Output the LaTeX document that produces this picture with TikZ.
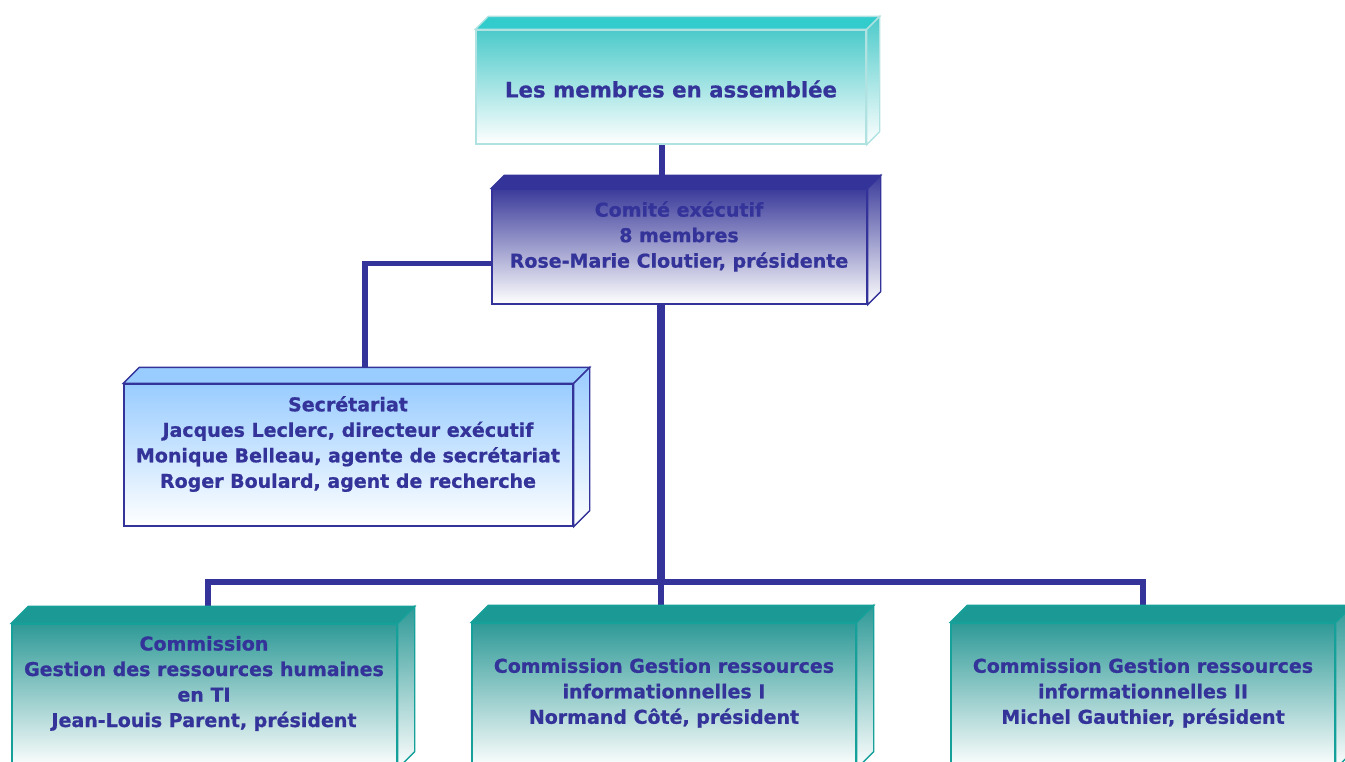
\documentclass[tikz,border=0pt]{standalone}
\usepackage{fontspec}
\setmainfont{DejaVu Sans}[BoldFeatures={FakeBold=0.8}]
\definecolor{tblue}{HTML}{333399}
\definecolor{cyanTop}{HTML}{33CCCC}
\definecolor{cyanFront}{HTML}{4CCACA}
\definecolor{cyanBorder}{HTML}{B0E2E2}
\definecolor{comFront}{HTML}{3B3B9B}
\definecolor{secTop}{HTML}{99CCFF}
\definecolor{tealTop}{HTML}{1B9A95}
\definecolor{tealFront}{HTML}{2E9A97}
\definecolor{tealBorder}{HTML}{16A09A}
\pgfdeclarelayer{background}
\pgfsetlayers{background,main}
% #1 name, #2 cx, #3 cy, #4 w, #5 h, #6 depth, #7 top face colour, #8 front top colour, #9 border colour
\newcommand\cubebox[9]{%
  \node[boxface, minimum width=#4pt, minimum height=#5pt, draw=#9, top color=#8, bottom color=white] (#1) at (#2,#3) {};
  \path[boxedge, draw=#9, fill=#7] (#1.north west) -- ++(#6,-#6) -- ([shift={(#6,-#6)}]#1.north east) -- (#1.north east) -- cycle;
  \path[boxedge, draw=#9, top color=#8, bottom color=white] (#1.north east) -- ++(#6,-#6) -- ([shift={(#6,-#6)}]#1.south east) -- (#1.south east) -- cycle;
}
\begin{document}
\begin{tikzpicture}[x=1pt,y=-1pt,
  boxface/.style={rectangle, inner sep=0pt, line width=1.4pt},
  boxedge/.style={line width=1.4pt, line join=miter},
  txt/.style={text=tblue, font=\fontsize{19}{25.5}\selectfont\bfseries, align=center, inner sep=0pt},
  bigtxt/.style={txt, font=\fontsize{21.3}{25}\selectfont\bfseries},
  link/.style={draw=tblue, line width=5.5pt},
  trunk/.style={draw=tblue, line width=8pt}]
\useasboundingbox (0,0) rectangle (1345,761);

\cubebox{top}{671}{87}{390}{114}{13}{cyanTop}{cyanFront}{cyanBorder}
\cubebox{com}{679.5}{246.5}{375}{115}{13}{tblue}{comFront}{tblue}
\cubebox{sec}{348.5}{455}{449}{142}{16}{secTop}{secTop}{tblue}
\cubebox{c1}{204.5}{696}{385}{144}{17}{tealTop}{tealFront}{tealBorder}
\cubebox{c2}{664}{695.5}{384}{145}{17}{tealTop}{tealFront}{tealBorder}
\cubebox{c3}{1143}{695.5}{384}{145}{17}{tealTop}{tealFront}{tealBorder}

\node[bigtxt] (topT) at (671,89) {Les membres en assemblée};
\node[txt] (comT) at (679,236.5) {Comité exécutif\\8 membres\\Rose-Marie Cloutier, présidente};
\node[txt] (secT) at (348,444) {Secrétariat\\Jacques Leclerc, directeur exécutif\\Monique Belleau, agente de secrétariat\\Roger Boulard, agent de recherche};
\node[txt] (c1T) at (204,683.5) {Commission\\Gestion des ressources humaines\\en TI\\Jean-Louis Parent, président};
\node[txt] (c2T) at (664,693) {Commission Gestion ressources\\informationnelles I\\Normand Côté, président};
\node[txt] (c3T) at (1143,693) {Commission Gestion ressources\\informationnelles II\\Michel Gauthier, président};

\coordinate (hub) at (661,582);
\begin{pgfonlayer}{background}
  \draw[link] ([xshift=-9pt]top.south) -- ([xshift=-9pt]top.south |- com.north);
  \draw[link] ([yshift=-17pt]com.west) -| ([xshift=16.5pt]sec.north);
  \draw[trunk] ([xshift=-18.5pt]com.south) -- (hub);
  \draw[link] ([xshift=3.5pt]c1.north) |- (hub) -| (c3.north);
  \draw[link] (hub) -- (hub |- c2.north);
\end{pgfonlayer}
\end{tikzpicture}
\end{document}
